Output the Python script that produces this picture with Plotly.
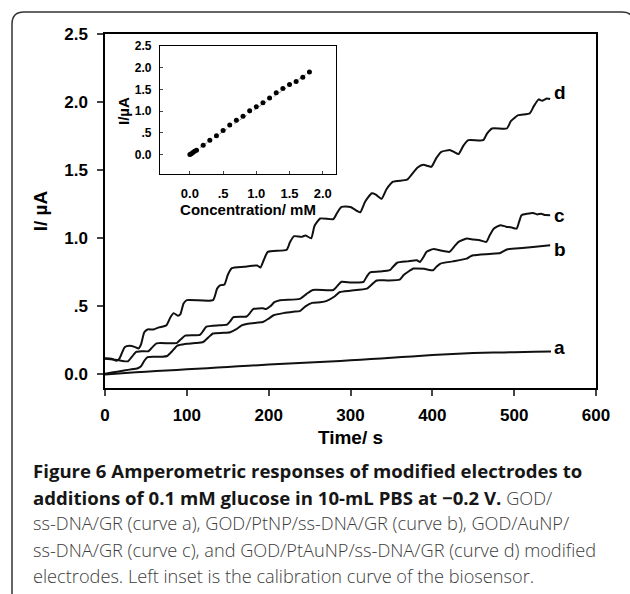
import plotly.graph_objects as go

# ---------------- data ----------------
curve_a = [(0, 0.0), (25, 0.01), (50, 0.02), (75, 0.028), (100, 0.038), (125, 0.045),
           (150, 0.055), (175, 0.063), (200, 0.072), (225, 0.08), (250, 0.088),
           (275, 0.095), (300, 0.103), (325, 0.113), (350, 0.122), (375, 0.132),
           (400, 0.143), (425, 0.15), (450, 0.157), (475, 0.16), (500, 0.163),
           (525, 0.166), (545, 0.168)]

curve_b = [(0, 0.005), (10, 0.015), (20, 0.025), (30, 0.035), (40, 0.045), (44, 0.06),
           (48, 0.10), (52, 0.127), (60, 0.13), (70, 0.13), (76, 0.135), (82, 0.17),
           (88, 0.21), (95, 0.22), (100, 0.225), (110, 0.23), (120, 0.238), (126, 0.27),
           (132, 0.30), (145, 0.305), (153, 0.31), (160, 0.33), (167, 0.36), (173, 0.37),
           (185, 0.38), (193, 0.385), (200, 0.41), (206, 0.434), (218, 0.45), (230, 0.46),
           (238, 0.465), (245, 0.50), (253, 0.525), (263, 0.53), (271, 0.54), (280, 0.57),
           (287, 0.605), (300, 0.615), (320, 0.63), (326, 0.66), (332, 0.69), (345, 0.69),
           (360, 0.696), (365, 0.73), (370, 0.752), (377, 0.777), (390, 0.775),
           (401, 0.765), (405, 0.79), (410, 0.814), (425, 0.83), (442, 0.85),
           (446, 0.865), (450, 0.875), (470, 0.885), (483, 0.892), (487, 0.905),
           (491, 0.917), (510, 0.928), (523, 0.936), (544, 0.949)]

curve_c = [(0, 0.115), (10, 0.11), (20, 0.10), (28, 0.096), (33, 0.13), (38, 0.165),
           (45, 0.17), (53, 0.17), (58, 0.20), (63, 0.228), (80, 0.228), (88, 0.232),
           (93, 0.26), (98, 0.285), (116, 0.29), (120, 0.32), (124, 0.35), (140, 0.36),
           (149, 0.365), (153, 0.39), (157, 0.42), (173, 0.425), (177, 0.45), (181, 0.48),
           (193, 0.485), (197, 0.48), (202, 0.50), (207, 0.53), (214, 0.545), (238, 0.555),
           (246, 0.59), (254, 0.62), (279, 0.62), (284, 0.65), (289, 0.68), (300, 0.675),
           (310, 0.675), (316, 0.68), (320, 0.72), (324, 0.75), (335, 0.755), (348, 0.765),
           (352, 0.79), (357, 0.82), (370, 0.83), (381, 0.838), (385, 0.826), (389, 0.86),
           (393, 0.90), (401, 0.92), (410, 0.91), (421, 0.90), (427, 0.94), (432, 0.973),
           (442, 0.998), (450, 0.99), (458, 0.985), (466, 0.973), (470, 1.02), (475, 1.07),
           (483, 1.096), (490, 1.085), (496, 1.08), (503, 1.071), (506, 1.12), (509, 1.169),
           (516, 1.18), (523, 1.186), (528, 1.175), (533, 1.18), (538, 1.17), (544, 1.169)]

curve_d = [(0, 0.118), (8, 0.115), (14, 0.10), (18, 0.12), (24, 0.20), (30, 0.21),
           (37, 0.20), (41, 0.19), (44, 0.22), (48, 0.31), (52, 0.33), (59, 0.33),
           (66, 0.345), (75, 0.36), (80, 0.42), (84, 0.45), (89, 0.43), (92, 0.44),
           (96, 0.52), (100, 0.545), (132, 0.545), (137, 0.63), (141, 0.655), (146, 0.66),
           (150, 0.73), (155, 0.78), (170, 0.79), (186, 0.80), (190, 0.785), (194, 0.84),
           (199, 0.90), (222, 0.915), (226, 0.97), (231, 1.015), (240, 1.01), (245, 1.02),
           (252, 1.00), (256, 1.09), (263, 1.145), (279, 1.14), (284, 1.19), (289, 1.23),
           (300, 1.23), (308, 1.20), (312, 1.19), (318, 1.27), (326, 1.33), (331, 1.32),
           (338, 1.29), (344, 1.36), (352, 1.415), (369, 1.43), (375, 1.47), (382, 1.52),
           (389, 1.54), (395, 1.53), (399, 1.525), (405, 1.59), (411, 1.635), (422, 1.647),
           (427, 1.632), (432, 1.618), (438, 1.68), (444, 1.72), (462, 1.72), (467, 1.77),
           (473, 1.806), (491, 1.806), (496, 1.86), (505, 1.904), (519, 1.917), (524, 1.97),
           (530, 2.02), (534, 2.01), (540, 2.027), (544, 2.022)]

curve_labels = ["a", "b", "c", "d"]
label_pos = [(556, 0.20), (556, 0.92), (556, 1.17), (556, 2.07)]

calib_conc = [0.0, 0.02, 0.045, 0.07, 0.1, 0.2, 0.3, 0.4, 0.5, 0.6, 0.7, 0.8, 0.9,
              1.0, 1.1, 1.2, 1.3, 1.4, 1.5, 1.6, 1.7, 1.8]
calib_cur = [0.0, 0.015, 0.046, 0.077, 0.10, 0.21, 0.33, 0.43, 0.55, 0.68, 0.79, 0.88,
             1.01, 1.10, 1.19, 1.30, 1.42, 1.52, 1.61, 1.68, 1.78, 1.90]
fit_conc = [0.0, 1.8]
fit_cur = [0.0, 1.90]

main_yticks = [0.0, 0.5, 1.0, 1.5, 2.0, 2.5]
main_yticktext = ["0.0", ".5", "1.0", "1.5", "2.0", "2.5"]
main_xticks = [0, 100, 200, 300, 400, 500, 600]
inset_yticks = [0.0, 0.5, 1.0, 1.5, 2.0, 2.5]
inset_yticktext = ["0.0", ".5", "1.0", "1.5", "2.0", "2.5"]
inset_xticks = [0.0, 0.5, 1.0, 1.5, 2.0]
inset_xticktext = ["0.0", ".5", "1.0", "1.5", "2.0"]

BOLD = '<b><span style="font-size:18.6px;fill:#161616">%s</span></b>'
caption_lines = [
    BOLD % "Figure 6 Amperometric responses of modified electrodes to",
    BOLD % "additions of 0.1 mM glucose in 10-mL PBS at \u22120.2 V." + " GOD/",
    "ss-DNA/GR (curve a), GOD/PtNP/ss-DNA/GR (curve b), GOD/AuNP/",
    "ss-DNA/GR (curve c), and GOD/PtAuNP/ss-DNA/GR (curve d) modified",
    "electrodes. Left inset is the calibration curve of the biosensor.",
]

# ---------------- layout geometry (pixels) ----------------
W, H = 630, 594
L, R, T, B = 105, 596, 34, 388


def px(x):
    return (x - L) / (R - L)


def py(y):
    return (B - y) / (B - T)


AX_FONT = "Liberation Sans, Arial, sans-serif"

fig = go.Figure()
for curve in [curve_a, curve_b, curve_c, curve_d]:
    fig.add_trace(go.Scatter(
        x=[p[0] for p in curve], y=[p[1] for p in curve], mode="lines",
        line=dict(color="#111111", width=2, shape="spline", smoothing=0.5),
        showlegend=False, hoverinfo="skip", xaxis="x", yaxis="y"))

fig.add_trace(go.Scatter(x=fit_conc, y=fit_cur, mode="lines",
                         line=dict(color="#999999", width=1, dash="dot"),
                         showlegend=False, xaxis="x2", yaxis="y2"))
fig.add_trace(go.Scatter(x=calib_conc, y=calib_cur, mode="markers",
                         marker=dict(color="#000000", size=5),
                         showlegend=False, xaxis="x2", yaxis="y2"))

annotations = []
for lab, (lx, ly) in zip(curve_labels, label_pos):
    annotations.append(dict(x=lx, y=ly, xref="x", yref="y", text="<b>%s</b>" % lab,
                            showarrow=False, xanchor="center", yanchor="middle",
                            font=dict(family=AX_FONT, size=19, color="#000")))

# inset y-axis title (sits right against the inset tick labels)
annotations.append(dict(x=px(123), y=py(111), xref="paper", yref="paper",
                        text="<b>I/\u00b5A</b>", textangle=-90, showarrow=False,
                        xanchor="center", yanchor="middle",
                        font=dict(family=AX_FONT, size=15, color="#000")))

caption_y = [470, 497, 523, 550, 576]
for line, cy in zip(caption_lines, caption_y):
    annotations.append(dict(x=px(31), y=py(cy), xref="paper", yref="paper", text=line,
                            showarrow=False, xanchor="left", yanchor="middle",
                            font=dict(family="Open Sans, Noto Sans, sans-serif",
                                      size=18.2, color="#3c3c3c", weight=300)))

fig.update_layout(
    width=W, height=H,
    margin=dict(l=L, r=W - R, t=T, b=H - B, pad=0),
    paper_bgcolor="white", plot_bgcolor="white",
    font=dict(family=AX_FONT, color="#000"),
    xaxis=dict(range=[0, 600], tickvals=main_xticks, ticks="outside", ticklen=6,
               tickwidth=1.5, showline=True, linewidth=1.5, linecolor="#000", mirror=True,
               showgrid=False, zeroline=False, ticklabelstandoff=5,
               tickfont=dict(family=AX_FONT, size=17, weight="bold"),
               title=dict(text="<b>Time/ s</b>", font=dict(family=AX_FONT, size=19),
                          standoff=7)),
    yaxis=dict(range=[-0.1, 2.5], tickvals=main_yticks, ticktext=main_yticktext,
               ticks="outside", ticklen=6, tickwidth=1.5, showline=True, linewidth=1.5,
               linecolor="#000", mirror=True, showgrid=False, zeroline=False,
               ticklabelstandoff=6,
               tickfont=dict(family=AX_FONT, size=17, weight="bold"),
               title=dict(text="<b>I/ \u00b5A</b>", font=dict(family=AX_FONT, size=19),
                          standoff=12)),
    xaxis2=dict(domain=[px(160), px(336)], anchor="y2", range=[-0.45, 2.2],
                tickvals=inset_xticks, ticktext=inset_xticktext, ticks="inside",
                ticklen=3, showline=True, linewidth=1.2, linecolor="#000", mirror=True,
                showgrid=False, zeroline=False, ticklabelstandoff=7,
                tickfont=dict(family=AX_FONT, size=13, weight="bold"),
                title=dict(text="<b>Concentration/ mM</b>",
                           font=dict(family=AX_FONT, size=15), standoff=3)),
    yaxis2=dict(domain=[py(174), py(46)], anchor="x2", range=[-0.45, 2.5],
                tickvals=inset_yticks, ticktext=inset_yticktext, ticks="inside",
                ticklen=3, showline=True, linewidth=1.2, linecolor="#000", mirror=True,
                showgrid=False, zeroline=False, ticklabelstandoff=5,
                tickfont=dict(family=AX_FONT, size=12, weight="bold")),
    annotations=annotations,
)

# rounded outer frame of the figure panel
r = 12
x0, y0, x1 = 12, 12, 634
path = ("M %f,%f L %f,%f Q %f,%f %f,%f L %f,%f Q %f,%f %f,%f L %f,%f" % (
    px(x0), py(600), px(x0), py(y0 + r), px(x0), py(y0), px(x0 + r), py(y0),
    px(x1 - r), py(y0), px(x1), py(y0), px(x1), py(y0 + r), px(x1), py(600)))
fig.add_shape(type="path", path=path, xref="paper", yref="paper",
              line=dict(color="#333333", width=1.5), layer="above")

fig.write_html("out.html")
